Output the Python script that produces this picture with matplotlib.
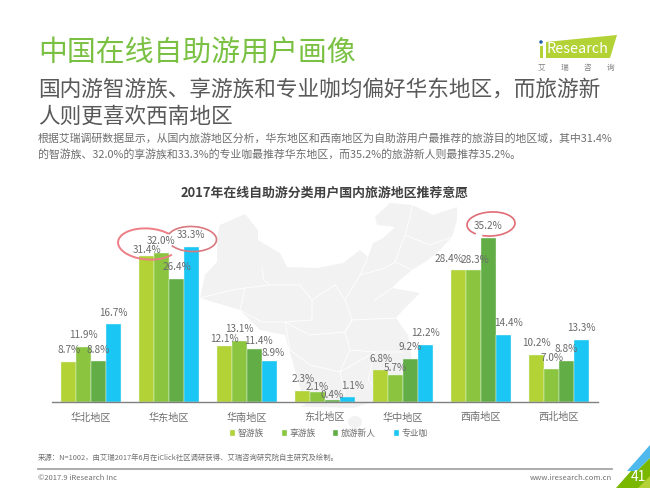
import matplotlib
matplotlib.use('Agg')
import matplotlib.pyplot as plt
from matplotlib.patches import Polygon, Ellipse, Arc
import numpy as np

plt.rcParams['font.family'] = ['Noto Sans CJK SC', 'DejaVu Sans']

regions = ['华北地区', '华东地区', '华南地区', '东北地区', '华中地区', '西南地区', '西北地区']
series_names = ['智游族', '享游族', '旅游新人', '专业咖']
zhi = [8.7, 31.4, 12.1, 2.3, 6.8, 28.4, 10.2]
xiang = [11.9, 32.0, 13.1, 2.1, 5.7, 28.3, 7.0]
xinren = [8.8, 26.4, 11.4, 0.4, 9.2, 35.2, 8.8]
zhuanye = [16.7, 33.3, 8.9, 1.1, 12.2, 14.4, 13.3]
colors = ['#B2D235', '#8BC53F', '#62AD45', '#1AC6F4']

W, H = 650, 488

# label nudges in px (dx, how far above the bar), picked by eye per series
nudges = [
    [(0, 11.5), (0, 6), (0, 6.5), (0, 12), (0, 11), (-10, 11), (0, 12)],
    [(0, 11.5), (0, 12), (0, 12), (0, 5), (0, 7), (1, 10.5), (0, 11)],
    [(0, 11.5), (0, 12), (4, 8), (0, 5), (0, 12), (0, 12), (0, 12)],
    [(0, 11.5), (0, 12), (4, 8), (5, 11), (0, 12), (5, 12), (0, 12)],
]

fig = plt.figure(figsize=(6.5, 4.88), dpi=100)

# page layer in pixel coords, y downwards
bg = fig.add_axes([0, 0, 1, 1])
bg.set_xlim(0, W)
bg.set_ylim(H, 0)
bg.axis('off')

# rough outline of the China map behind the chart
china = [(200, 298), (205, 275), (217, 262), (217, 237), (220, 225), (245, 214), (258, 230),
         (258, 240), (280, 253), (287, 267), (317, 268), (343, 263), (360, 250), (368, 257),
         (373, 243), (383, 238), (395, 227), (377, 225), (375, 217), (390, 203), (412, 205),
         (433, 215), (457, 207), (457, 220), (452, 237), (437, 253), (425, 262), (412, 270),
         (400, 280), (392, 288), (420, 293), (403, 310), (396, 318), (408, 335), (412, 360),
         (400, 382), (385, 398), (353, 408), (320, 407), (300, 407), (305, 405), (295, 370),
         (285, 335), (260, 330), (240, 310)]
bg.add_patch(Polygon(china, closed=True, fc='#F2F2F2', ec='none', zorder=0))
bg.add_patch(Ellipse((355, 422), 14, 12, fc='#F2F2F2', ec='none', zorder=0))
borders = [
    [(200, 298), (232, 290), (245, 288), (270, 285), (300, 285), (312, 300), (312, 320), (285, 322)],
    [(245, 288), (240, 310), (262, 322), (285, 322), (310, 335), (345, 332), (352, 320), (396, 318)],
    [(262, 268), (264, 280), (270, 285)],
    [(312, 300), (335, 285), (345, 300), (352, 320), (345, 332), (350, 350), (340, 372), (345, 395)],
    [(345, 300), (360, 275), (368, 257)],
    [(360, 275), (385, 268), (395, 262), (412, 270)],
    [(285, 322), (290, 350), (310, 365), (340, 372), (375, 352), (403, 352)],
    [(350, 350), (375, 352), (368, 380), (385, 398)],
    [(395, 262), (405, 235), (410, 218), (412, 205)],
    [(405, 235), (430, 245), (452, 237)],
    [(375, 300), (392, 288)],
]
for b in borders:
    bg.plot(*zip(*b), color='white', lw=0.6, zorder=1)

# chart axes, placed so that the baseline sits at y=402 and 1 unit = 4.65 px
ax_top = 200
ax_left, ax_right, ax_base = 52, 598, 402
ax = fig.add_axes([ax_left / W, 1 - ax_base / H, (ax_right - ax_left) / W, (ax_base - ax_top) / H])
ax.patch.set_alpha(0)
ax.set_xlim(-0.5, 6.5)
ax.set_ylim(0, (ax_base - ax_top) / 4.65)
for s in ['top', 'left', 'right']:
    ax.spines[s].set_visible(False)
ax.spines['bottom'].set_color('#808080')
ax.spines['bottom'].set_linewidth(1.0)
ax.set_yticks([])
x = np.arange(len(regions))
ax.set_xticks(x)
ax.set_xticklabels(regions, fontsize=7.3, color='#6E6E6E')
ax.tick_params(axis='x', length=0, pad=7.5)

width = 0.191
all_series = [zhi, xiang, xinren, zhuanye]
for i, vals in enumerate(all_series):
    pos = x + (i - 1.5) * width
    ax.bar(pos, vals, width, color=colors[i], edgecolor='#EAF6F0', linewidth=0.3, label=series_names[i])
    for j, v in enumerate(vals):
        dx, dy = nudges[i][j]
        ax.annotate('%.1f%%' % v, (pos[j], v), xytext=(dx * 0.72, dy * 0.72), textcoords='offset points',
                    ha='center', va='center', fontsize=7.2, color='#6A6A6A')

leg = ax.legend(loc='upper center', bbox_to_anchor=(0.507, -0.095), ncol=4, frameon=False, fontsize=6.3,
                handlelength=0.6, handleheight=0.6, handletextpad=0.3, columnspacing=2.0, labelcolor='#6E6E6E')

# top layer: rings have to sit over the bars
top = fig.add_axes([0, 0, 1, 1])
top.set_xlim(0, W)
top.set_ylim(H, 0)
top.axis('off')
top.patch.set_alpha(0)
top.add_patch(Arc((148, 244), 60, 31, angle=4, theta1=20, theta2=330, color='#EE7D85', lw=1.4))
top.add_patch(Arc((192, 239), 49, 25, angle=2, theta1=190, theta2=520, color='#D9787E', lw=1.2))
top.add_patch(Arc((491, 224), 48, 24, angle=-3, theta1=-210, theta2=130, color='#E06C75', lw=1.2))

fig.text(38 / W, 1 - 54 / H, '中国在线自助游用户画像', fontsize=20.8, color='#7AC143', va='center')
fig.text(38 / W, 1 - 91 / H, '国内游智游族、享游族和专业咖均偏好华东地区，而旅游新', fontsize=15.6, color='#595959', va='center')
fig.text(38 / W, 1 - 117 / H, '人则更喜欢西南地区', fontsize=15.6, color='#595959', va='center')
fig.text(38 / W, 1 - 138 / H, '根据艾瑞调研数据显示，从国内旅游地区分析，华东地区和西南地区为自助游用户最推荐的旅游目的地区域，其中31.4%', fontsize=7.85, color='#6E6E6E', va='center')
fig.text(38 / W, 1 - 154 / H, '的智游族、32.0%的享游族和33.3%的专业咖最推荐华东地区，而35.2%的旅游新人则最推荐35.2%。', fontsize=7.85, color='#6E6E6E', va='center')
fig.text(325 / W, 1 - 193 / H, '2017年在线自助游分类用户国内旅游地区推荐意愿', fontsize=9.3, fontweight='bold', color='#404040', va='center', ha='center')

# footer
fig.text(38 / W, 1 - 458 / H, '来源：N=1002，由艾瑞2017年6月在iClick社区调研获得、艾瑞咨询研究院自主研究及绘制。', fontsize=5.3, color='#707070', va='center')
bg.plot([38, 612], [469, 469], color='#A6A6A6', lw=1.3)
fig.text(38 / W, 1 - 478 / H, '©2017.9 iResearch Inc', fontsize=5.5, color='#707070', va='center')
fig.text(612 / W, 1 - 478 / H, 'www.iresearch.com.cn', fontsize=5.5, color='#707070', va='center', ha='right')

# corner page badge
bg.add_patch(Polygon([(627, 471), (650, 445), (650, 458), (637, 471)], closed=True, fc='#4FB8EC', ec='none'))
bg.add_patch(Polygon([(616, 488), (631, 471), (637, 471), (650, 458), (650, 488)], closed=True, fc='#7AB800', ec='none'))
bg.add_patch(Polygon([(638, 488), (650, 476), (650, 488)], closed=True, fc='#B2D235', ec='none'))
fig.text(638 / W, 1 - 477 / H, '41', fontsize=10, color='white', va='center', ha='center')

# logo
bg.add_patch(Polygon([(546, 42), (617, 35), (610, 58), (546, 58)], closed=True, fc='#B2D235', ec='none'))
bg.add_patch(Polygon([(540, 46), (543, 46), (543, 58), (540, 58)], closed=True, fc='#B2D235', ec='none'))
bg.add_patch(Ellipse((541, 42), 3.5, 3.5, fc='#1F5FA8', ec='none'))
fig.text(547 / W, 1 - 49 / H, 'Research', fontsize=10.4, color='white', va='center')
for lx, ch in zip([541, 564, 587, 611], '艾瑞咨询'):
    fig.text(lx / W, 1 - 68 / H, ch, fontsize=5.5, color='#808080', va='center', ha='center')

fig.savefig('out.png', dpi=100)
